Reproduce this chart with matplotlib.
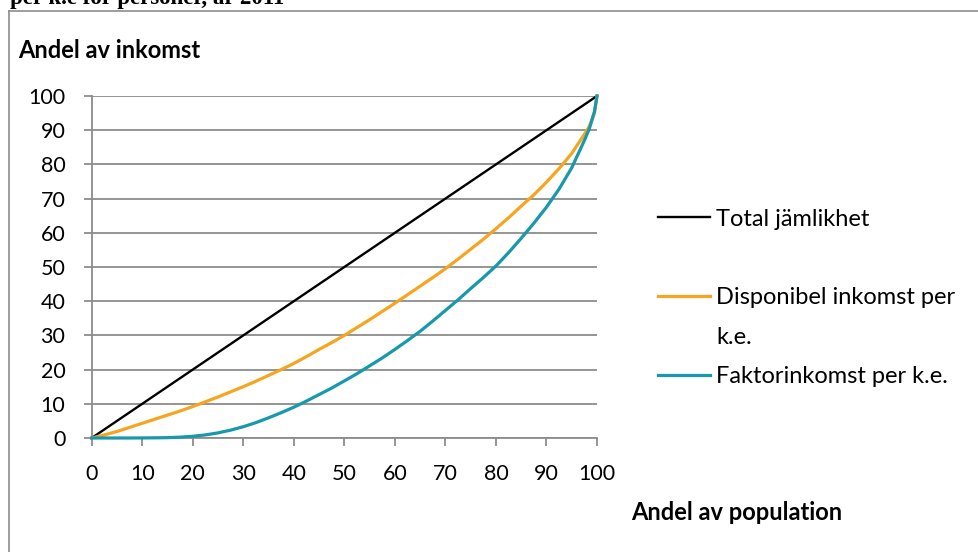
import matplotlib
matplotlib.use("Agg")
import matplotlib.pyplot as plt
from matplotlib.lines import Line2D

# ---- data ----
population = [0, 2.5, 5, 7.5, 10, 12.5, 15, 17.5, 20, 22.5, 25, 27.5, 30, 32.5, 35, 37.5,
              40, 42.5, 45, 47.5, 50, 52.5, 55, 57.5, 60, 62.5, 65, 67.5, 70, 72.5, 75,
              77.5, 80, 82.5, 85, 87.5, 90, 92.5, 95, 97.5, 98.5, 99.5, 100]
total_jamlikhet = [0, 2.5, 5, 7.5, 10, 12.5, 15, 17.5, 20, 22.5, 25, 27.5, 30, 32.5, 35, 37.5,
                   40, 42.5, 45, 47.5, 50, 52.5, 55, 57.5, 60, 62.5, 65, 67.5, 70, 72.5, 75,
                   77.5, 80, 82.5, 85, 87.5, 90, 92.5, 95, 97.5, 98.5, 99.5, 100]
disponibel = [0, 0.9, 1.9, 3.1, 4.3, 5.5, 6.7, 7.9, 9.2, 10.6, 12.0, 13.5, 15.0, 16.6, 18.3, 20.0,
              21.8, 23.8, 25.9, 27.9, 30.0, 32.3, 34.6, 37.0, 39.4, 41.9, 44.4, 46.9, 49.5, 52.3, 55.2,
              58.1, 61.2, 64.4, 67.8, 71.1, 74.8, 78.8, 83.2, 88.8, 91.2, 95.0, 100]
faktor = [0, 0, 0, 0, 0.02, 0.05, 0.1, 0.25, 0.5, 0.9, 1.5, 2.3, 3.3, 4.5, 5.9, 7.4,
          9.0, 10.8, 12.7, 14.6, 16.7, 18.8, 21.1, 23.4, 25.9, 28.5, 31.2, 34.2, 37.3, 40.4, 43.7,
          46.9, 50.3, 54.2, 58.4, 62.8, 67.5, 72.8, 79.0, 87.0, 90.5, 95.5, 100]
ticks = [0, 10, 20, 30, 40, 50, 60, 70, 80, 90, 100]
labels = ["Total jämlikhet", "Disponibel inkomst per", "k.e.", "Faktorinkomst per k.e."]
ylabel_text = "Andel av inkomst"
xlabel_text = "Andel av population"
title_text = "per k.e för personer, år 2011"

W, H = 979, 552
FONT = "Lato"
FS = 15.5      # tick labels
FT = 17.0      # other texts
GREY = "#8c8c8c"

fig = plt.figure(figsize=(W / 100, H / 100), dpi=100)
ax = fig.add_axes([91.7 / W, 1 - 438 / H, (597 - 91.7) / W, (438 - 96) / H])

l1, = ax.plot(population, total_jamlikhet, color="black", lw=1.7, zorder=3, clip_on=False)
l2, = ax.plot(population, disponibel, color="#F5A51F", lw=2.3, zorder=3, clip_on=False)
l3, = ax.plot(population, faktor, color="#1899AB", lw=2.3, zorder=3, clip_on=False)

ax.set_xlim(0, 100)
ax.set_ylim(0, 100)
ax.set_xticks(ticks)
ax.set_yticks(ticks)
ax.set_xticklabels([str(t) for t in ticks], fontfamily=FONT, fontsize=FS)
ax.set_yticklabels([str(t) for t in ticks], fontfamily=FONT, fontsize=FS)
ax.tick_params(axis="both", direction="out", length=6, width=1.3, color=GREY, colors="black")
ax.tick_params(axis="y", pad=13)
ax.tick_params(axis="x", pad=13)
ax.yaxis.grid(True, color=GREY, lw=1.3)
ax.xaxis.grid(False)
ax.set_axisbelow(True)
for s in ["top", "right"]:
    ax.spines[s].set_visible(False)
for s in ["left", "bottom"]:
    ax.spines[s].set_color(GREY)
    ax.spines[s].set_linewidth(1.3)

blank = Line2D([], [], color="none")
leg = ax.legend([l1, blank, l2, blank, l3],
                [labels[0], "", labels[1], labels[2], labels[3]],
                loc="center left", bbox_to_anchor=(658 / W, 1 - 298 / H),
                bbox_transform=fig.transFigure, frameon=False,
                borderpad=0, borderaxespad=0, handlelength=52 / (FT * 100 / 72),
                handletextpad=6 / (FT * 100 / 72), labelspacing=0.78,
                prop={"family": FONT, "size": FT})

fig.text(18.3 / W, 1 - 50 / H, ylabel_text, fontfamily=FONT, fontweight="bold",
         fontsize=FT, ha="left", va="center")
fig.text(630.7 / W, 1 - 513 / H, xlabel_text, fontfamily=FONT, fontweight="bold",
         fontsize=FT, ha="left", va="center")
fig.text(10 / W, 1 - 4 / H, title_text, fontfamily="Liberation Serif", fontweight="bold",
         fontsize=16.5, ha="left", va="baseline")

# outer chart border (extends past the right and bottom edges)
fig.add_artist(Line2D([9 / W, 9 / W], [0, 1 - 10.7 / H], transform=fig.transFigure,
                      color=GREY, lw=1.2))
fig.add_artist(Line2D([9 / W, 1], [1 - 10.7 / H, 1 - 10.7 / H], transform=fig.transFigure,
                      color=GREY, lw=1.2))

fig.savefig("out.png", dpi=100)
